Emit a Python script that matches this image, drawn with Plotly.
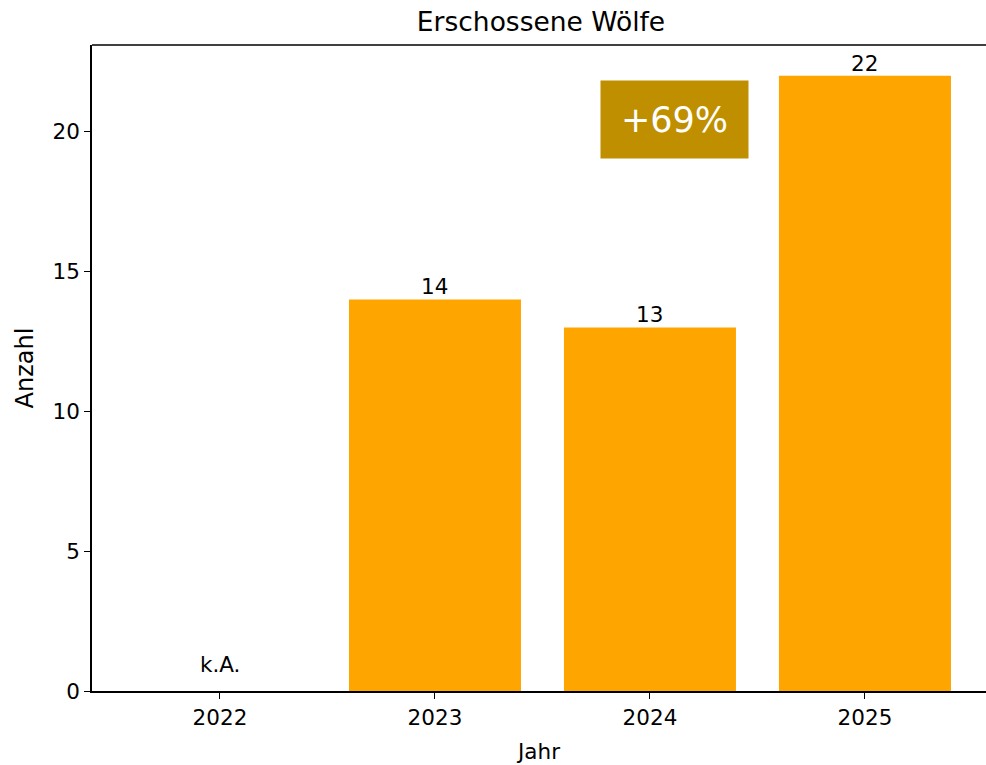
import plotly.graph_objects as go

years = ["2022", "2023", "2024", "2025"]
values = [0, 14, 13, 22]
labels = ["k.A.", "14", "13", "22"]
change_text = "+69%"

FONT = "DejaVu Sans"
fig = go.Figure()
fig.add_trace(go.Bar(
    x=list(range(len(years))), y=values, width=0.8,
    marker=dict(color="#FFA500", line=dict(width=0)),
    hoverinfo="skip",
))

for i, (lab, v) in enumerate(zip(labels, values)):
    fig.add_annotation(
        x=i, y=v, text=lab, showarrow=False, xanchor="center", yanchor="middle",
        yshift=27 if lab == "k.A." else 12.5,
        font=dict(family=FONT, size=21.5, color="black"),
    )

fig.add_annotation(
    x=2.114, y=20.45, text=change_text, showarrow=False,
    xanchor="center", yanchor="middle", width=147, height=77, borderpad=0,
    bgcolor="#BF8F00", font=dict(family=FONT, size=35, color="white"),
)

fig.add_shape(type="line", xref="paper", yref="paper", x0=0, x1=1, y0=1, y1=1,
              line=dict(color="black", width=1.5))

fig.update_layout(
    width=986, height=765,
    margin=dict(l=92, r=0, t=45, b=74),
    plot_bgcolor="white", paper_bgcolor="white",
    showlegend=False,
    font=dict(family=FONT, size=21.5, color="black"),
    title=dict(text="Erschossene Wölfe", x=541 / 986, xanchor="center",
               y=1 - 22 / 765, yanchor="middle",
               font=dict(family=FONT, size=26.5, color="black")),
    xaxis=dict(
        range=[-0.5953, 3.563], tickmode="array", tickvals=list(range(len(years))),
        ticktext=years, showgrid=False, zeroline=False, showline=True,
        linecolor="black", linewidth=1.5, ticks="outside", ticklen=6,
        tickcolor="black", tickwidth=1.3,
        tickfont=dict(family=FONT, size=21.5),
        title=dict(text="Jahr", standoff=15, font=dict(family=FONT, size=21.5)),
    ),
    yaxis=dict(
        range=[0, 23.1], tickvals=[0, 5, 10, 15, 20], showgrid=False,
        zeroline=False, showline=True, linecolor="black", linewidth=1.5,
        ticks="outside", ticklen=6, tickcolor="black", tickwidth=1.3,
        tickfont=dict(family=FONT, size=21.5),
        title=dict(text="Anzahl", standoff=12, font=dict(family=FONT, size=24)),
    ),
)

fig.write_html(
    "out.html",
    config={"displayModeBar": False},
    post_script="document.body.style.margin='0';document.body.style.overflow='hidden';",
)
